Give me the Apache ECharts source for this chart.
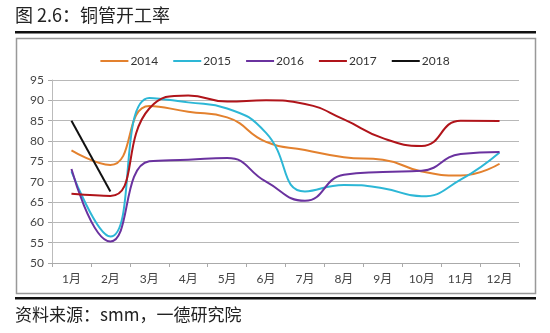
<!DOCTYPE html>
<html><head><meta charset="utf-8">
<script src="https://cdn.jsdelivr.net/npm/echarts@6/dist/echarts.min.js"></script>
<style>html,body{margin:0;padding:0;background:#fff}#c{width:550px;height:333px}</style>
</head><body><div id="c"></div>
<script>
const months = ['1月','2月','3月','4月','5月','6月','7月','8月','9月','10月','11月','12月'];
const s2014 = [77.7, 74.1, 88.6, 87.2, 85.8, 79.8, 77.8, 76.0, 75.4, 72.5, 71.5, 74.4];
const s2015 = [72.5, 56.5, 90.6, 89.5, 88.0, 82.0, 67.6, 69.2, 68.4, 66.4, 70.5, 77.2];
const s2016 = [73.1, 55.3, 75.0, 75.4, 75.8, 70.0, 65.3, 71.7, 72.4, 72.7, 76.8, 77.3];
const s2017 = [67.0, 66.5, 88.0, 91.2, 89.7, 90.0, 89.1, 85.3, 80.7, 78.8, 85.0, 84.9];
const s2018 = [85.0, 67.6];
const seriesNames = ['2014','2015','2016','2017','2018'];
const seriesData = [s2014, s2015, s2016, s2017, s2018];
const colors = ['#E3812E','#2DB7D6','#6A329F','#B0141A','#111111'];

const chart = echarts.init(document.getElementById('c'), null, {renderer:'canvas'});
const font = 'Lato, "Noto Sans CJK SC", sans-serif';
chart.setOption({
  animation: false,
  color: colors,
  legend: {
    data: seriesNames, top: 50, left: 'center',
    itemWidth: 28, itemHeight: 2, itemGap: 15,
    icon: 'rect',
    textStyle: {fontFamily: font, fontSize: 12, color: '#333', padding:[0,0,0,-3]}
  },
  grid: {left: 52, right: 31, top: 80, bottom: 70},
  xAxis: {
    type: 'category', data: months, boundaryGap: true,
    axisLine: {lineStyle: {color: '#aaa'}},
    axisTick: {show: true, length: 4, lineStyle: {color: '#aaa'}},
    axisLabel: {fontFamily: font, fontSize: 12, color: '#444', margin: 10}
  },
  yAxis: {
    type: 'value', min: 50, max: 95, interval: 5,
    axisLine: {show: true, lineStyle: {color: '#bbb'}},
    axisTick: {show: true, length: 4, lineStyle: {color: '#aaa'}},
    axisLabel: {fontFamily: font, fontSize: 12, color: '#444', margin: 8},
    splitLine: {lineStyle: {color: '#b8b8b8'}}
  },
  series: seriesNames.map((n, i) => ({
    name: n, type: 'line', data: seriesData[i], smooth: i === 4 ? false : 0.5,
    showSymbol: false, symbol: 'none',
    lineStyle: {width: 2, color: colors[i]}
  })),
  graphic: [
    {type:'text', left: 15, top: 6, style:{text:'图 2.6：铜管开工率', font:'18px "Noto Sans CJK SC"', fill:'#222'}},
    {type:'rect', shape:{x:15, y:31, width:521, height:2.5}, style:{fill:'#111'}},
    {type:'rect', shape:{x:16.5, y:38.5, width:519, height:255}, style:{fill:'none', stroke:'#999', lineWidth:1.5}},
    {type:'rect', shape:{x:15, y:297, width:521, height:2.5}, style:{fill:'#111'}},
    {type:'text', left: 15, top: 306, style:{text:'资料来源：smm，一德研究院', font:'17px "Noto Sans CJK SC"', fill:'#222'}}
  ]
});
</script></body></html>
